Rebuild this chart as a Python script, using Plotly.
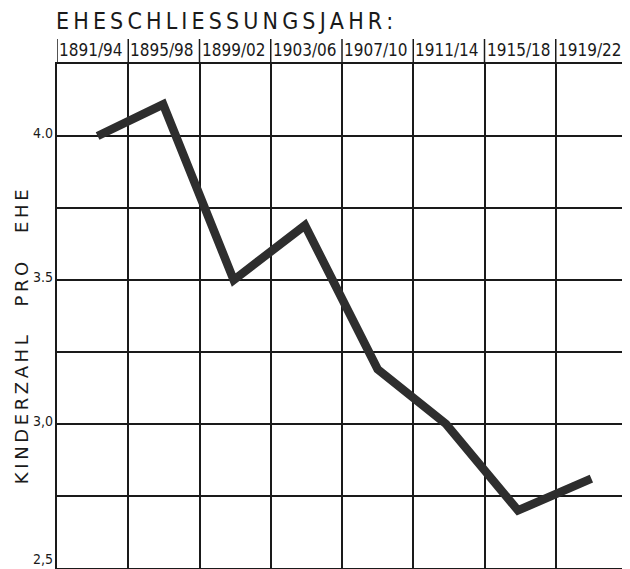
import plotly.graph_objects as go

periods = ["1891/94", "1895/98", "1899/02", "1903/06", "1907/10", "1911/14", "1915/18", "1919/22"]
x_pos = [0.57, 1.49, 2.48, 3.48, 4.50, 5.46, 6.47, 7.50]
kinderzahl = [4.00, 4.11, 3.50, 3.69, 3.19, 3.00, 2.70, 2.81]
y_tick_vals = [4.0, 3.5, 3.0, 2.5]
y_tick_text = ["4.0", "3.5", "3,0", "2,5"]
title_text = "EHESCHLIESSUNGSJAHR:"
y_title_words = ["KINDERZAHL", "PRO", "EHE"]

# page body has an 8px margin, so the figure is sized to fill the rest of the window
W, H = 622, 561
L, R, T, B = 49, 1, 56, 1
pw = W - L - R
ph = H - T - B

fig = go.Figure()
fig.add_trace(go.Scatter(
    x=x_pos, y=kinderzahl, mode="lines",
    line=dict(color="#2e2e2e", width=8.5),
    hoverinfo="skip", showlegend=False,
))

ink = "#1a1a1a"
narrow = "Liberation Sans Narrow, DejaVu Sans Condensed, sans-serif"

annotations = []
for i, p in enumerate(periods):
    annotations.append(dict(
        x=i, y=1 + 2 / ph, xref="x", yref="paper", text=p, showarrow=False,
        xanchor="left", yanchor="bottom", xshift=0,
        font=dict(family=narrow, size=17, color=ink),
    ))
for v, t in zip(y_tick_vals, y_tick_text):
    annotations.append(dict(
        x=0, y=v, xref="paper", yref="y", text=t, showarrow=False,
        xanchor="right", yanchor="bottom", xshift=-2, yshift=-7 if v > 2.5 else -1,
        font=dict(family=narrow, size=14, color=ink),
    ))
annotations.append(dict(
    x=0, y=1 + 28 / ph, xref="paper", yref="paper",
    text="\u2009".join(list(title_text)), showarrow=False,
    xanchor="left", yanchor="bottom", xshift=-3,
    font=dict(family=narrow, size=23, color=ink),
))
word_gap = "\u2009\u2003\u2009\u2009"
y_title = word_gap.join("\u2009".join(list(w)) for w in y_title_words)
annotations.append(dict(
    x=(13 - L) / pw, y=(H - B - 329) / ph, xref="paper", yref="paper",
    text=y_title, showarrow=False, textangle=-90, xanchor="center", yanchor="middle",
    font=dict(family="DejaVu Sans, sans-serif", size=18, color=ink),
))

shapes = []
for i in range(len(periods) + 1):
    shapes.append(dict(
        type="line", xref="x", yref="paper", x0=i, x1=i, y0=1, y1=1 + 25 / ph,
        line=dict(color=ink, width=1.5),
    ))

fig.update_layout(
    width=W, height=H,
    margin=dict(l=L, r=R, t=T, b=B),
    paper_bgcolor="white", plot_bgcolor="white",
    xaxis=dict(range=[0, 8], tickvals=list(range(9)), showticklabels=False,
               showgrid=True, gridcolor=ink, gridwidth=1.5, zeroline=False,
               showline=True, linecolor=ink, linewidth=1.5, mirror=True, ticks=""),
    yaxis=dict(range=[2.5, 4.25], dtick=0.25, tick0=2.5, showticklabels=False,
               showgrid=True, gridcolor=ink, gridwidth=1.5, zeroline=False,
               showline=True, linecolor=ink, linewidth=2, mirror=True, ticks=""),
    annotations=annotations, shapes=shapes,
)

fig.write_html("out.html")
